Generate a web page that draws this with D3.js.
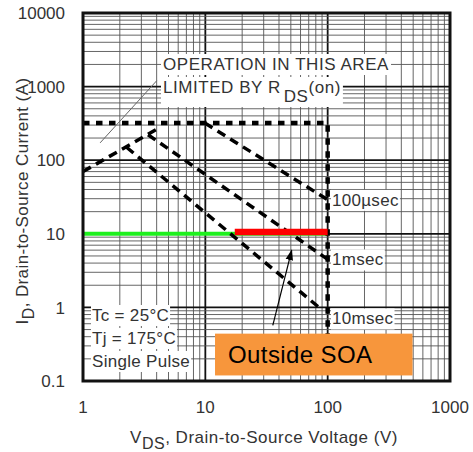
<!DOCTYPE html>
<html>
<head>
<meta charset="utf-8">
<script src="https://cdn.jsdelivr.net/npm/d3@7"></script>
<style>
body { margin: 0; background: #fff; }
text { font-family: "Liberation Sans", Arial, sans-serif; fill: #333; }
</style>
</head>
<body>
<svg id="chart" width="473" height="452"></svg>
<script>
// axis ticks
var xTicks = [1, 10, 100, 1000];
var xTickLabels = ["1", "10", "100", "1000"];
var yTicks = [0.1, 1, 10, 100, 1000, 10000];
var yTickLabels = ["0.1", "1", "10", "100", "1000", "10000"];

// SOA boundaries (V, A)
var dcV = [1, 100, 100];      var dcI = [320, 320, 0.2];
var rdsV = [1, 4.1];          var rdsI = [70, 270];
var us100V = [9.9, 100];      var us100I = [320, 29];
var ms1V = [3.4, 100];        var ms1I = [222, 4.5];
var ms10V = [2.27, 85];       var ms10I = [150, 1.0];

// operating point lines
var greenV = [1, 100];        var greenI = [10, 10];
var redV = [17.4, 100];       var redI = [10.6, 10.6];

var pulseLabels = ["100\u00b5sec", "1msec", "10msec"];
var pulseLabelI = [29, 4.5, 0.71];
var condLabels = ["Tc = 25\u00b0C", "Tj = 175\u00b0C", "Single Pulse"];

var svg = d3.select("#chart");
var x = d3.scaleLog().domain([1, 1000]).range([83, 450]);
var y = d3.scaleLog().domain([0.1, 10000]).range([381, 13]);

// grid
var grid = svg.append("g");
grid.selectAll("line.vx")
	.data(x.ticks())
	.enter().append("line")
	.attr("x1", function(d) { return x(d); })
	.attr("x2", function(d) { return x(d); })
	.attr("y1", y(0.1)).attr("y2", y(10000))
	.attr("stroke", function(d) { return xTicks.indexOf(d) >= 0 ? "#111" : "#555"; })
	.attr("stroke-width", function(d) { return xTicks.indexOf(d) >= 0 ? 1.8 : 0.9; });
grid.selectAll("line.hy")
	.data(y.ticks())
	.enter().append("line")
	.attr("y1", function(d) { return y(d); })
	.attr("y2", function(d) { return y(d); })
	.attr("x1", x(1)).attr("x2", x(1000))
	.attr("stroke", function(d) { return yTicks.indexOf(d) >= 0 ? "#111" : "#555"; })
	.attr("stroke-width", function(d) { return yTicks.indexOf(d) >= 0 ? 1.8 : 0.9; });

// text with white background boxes hiding the grid
var bgLayer = svg.append("g");
function boxed(t, pad) {
	var b = t.node().getBBox();
	bgLayer.append("rect")
		.attr("x", b.x - pad).attr("y", b.y - 1)
		.attr("width", b.width + 2 * pad).attr("height", b.height + 2)
		.attr("fill", "#fff");
}

var lines = svg.append("g");
var txtLayer = svg.append("g");

var line = d3.line()
	.x(function(d) { return x(d[0]); })
	.y(function(d) { return y(d[1]); });
function pts(vs, is) { return vs.map(function(v, i) { return [v, is[i]]; }); }

// leader line for RDS(on) note
lines.append("line")
	.attr("x1", x(1.38)).attr("y1", y(172))
	.attr("x2", x(4.0)).attr("y2", y(1200))
	.attr("stroke", "#666").attr("stroke-width", 1);

lines.append("path").attr("d", line(pts(greenV, greenI)))
	.attr("fill", "none").attr("stroke", "#1ef01e").attr("stroke-width", 4);

lines.append("path").attr("d", line(pts(dcV, dcI)))
	.attr("fill", "none").attr("stroke", "#000").attr("stroke-width", 4.5)
	.attr("stroke-dasharray", "6.5,6.5");

[[rdsV, rdsI], [us100V, us100I], [ms1V, ms1I], [ms10V, ms10I]].forEach(function(s) {
	lines.append("path").attr("d", line(pts(s[0], s[1])))
		.attr("fill", "none").attr("stroke", "#000").attr("stroke-width", 3.5)
		.attr("stroke-dasharray", "9,6");
});

lines.append("path").attr("d", line(pts(redV, redI)))
	.attr("fill", "none").attr("stroke", "#ff0000").attr("stroke-width", 6.5);

// frame
svg.append("rect")
	.attr("x", x(1)).attr("y", y(10000))
	.attr("width", x(1000) - x(1)).attr("height", y(0.1) - y(10000))
	.attr("fill", "none").attr("stroke", "#111").attr("stroke-width", 3);

// tick labels
txtLayer.selectAll("text.xt")
	.data(xTicks)
	.enter().append("text")
	.attr("x", function(d) { return x(d); })
	.attr("y", 413)
	.attr("text-anchor", "middle")
	.attr("font-size", 17)
	.text(function(d, i) { return xTickLabels[i]; });
txtLayer.selectAll("text.yt")
	.data(yTicks)
	.enter().append("text")
	.attr("x", 65)
	.attr("y", function(d) { return y(d); })
	.attr("dy", "0.36em")
	.attr("text-anchor", "end")
	.attr("font-size", 17)
	.text(function(d, i) { return yTickLabels[i]; });

// axis titles
var xt = txtLayer.append("text").attr("x", 264).attr("y", 443)
	.attr("text-anchor", "middle").attr("font-size", 17)
	.attr("letter-spacing", 0.5);
xt.append("tspan").text("V");
xt.append("tspan").attr("dy", 6).attr("font-size", 16).text("DS");
xt.append("tspan").attr("dy", -6).text(", Drain-to-Source Voltage (V)");

var yt = txtLayer.append("text")
	.attr("transform", "translate(28,201) rotate(-90)")
	.attr("text-anchor", "middle").attr("font-size", 17)
	.attr("letter-spacing", 0.4);
yt.append("tspan").text("I");
yt.append("tspan").attr("dy", 6).attr("font-size", 16).text("D");
yt.append("tspan").attr("dy", -6).text(",  Drain-to-Source Current (A)");

// RDS(on) note
var n1 = txtLayer.append("text").attr("x", 163).attr("y", 70)
	.attr("font-size", 17).attr("letter-spacing", 0.55).text("OPERATION IN THIS AREA");
boxed(n1, 2);
var n2 = txtLayer.append("text").attr("x", 163).attr("y", 93)
	.attr("font-size", 17).attr("letter-spacing", 0.55);
n2.append("tspan").text("LIMITED BY R");
n2.append("tspan").attr("dx", 3).attr("dy", 9).text("DS");
n2.append("tspan").attr("dy", -9).text("(on)");
boxed(n2, 2);

// pulse labels
pulseLabels.forEach(function(s, i) {
	var t = txtLayer.append("text").attr("x", 332).attr("y", y(pulseLabelI[i]))
		.attr("dy", "0.36em").attr("font-size", 17).attr("letter-spacing", 0.3).text(s);
	boxed(t, 1);
});

// conditions
condLabels.forEach(function(s, i) {
	var t = txtLayer.append("text").attr("x", 92).attr("y", 321 + i * 23)
		.attr("font-size", 17).attr("letter-spacing", 0.3).text(s);
	boxed(t, 1);
});

// Outside SOA callout
svg.append("rect")
	.attr("x", x(12)).attr("y", y(0.44))
	.attr("width", x(494) - x(12)).attr("height", y(0.119) - y(0.44))
	.attr("fill", "#f7963c");
svg.append("text").attr("x", x(12) + 13).attr("y", 363)
	.attr("font-size", 24).attr("letter-spacing", 0.4).style("fill", "#000").text("Outside SOA");

svg.append("defs").append("marker")
	.attr("id", "ah").attr("viewBox", "0 0 10 10")
	.attr("refX", 9).attr("refY", 5)
	.attr("markerWidth", 9).attr("markerHeight", 9)
	.attr("orient", "auto")
	.append("path").attr("d", "M0,1.5L10,5L0,8.5Z").attr("fill", "#000");
svg.append("line")
	.attr("x1", x(35.6)).attr("y1", y(0.57))
	.attr("x2", x(50.8)).attr("y2", y(5.95))
	.attr("stroke", "#000").attr("stroke-width", 1.2)
	.attr("marker-end", "url(#ah)");
</script>
</body>
</html>
